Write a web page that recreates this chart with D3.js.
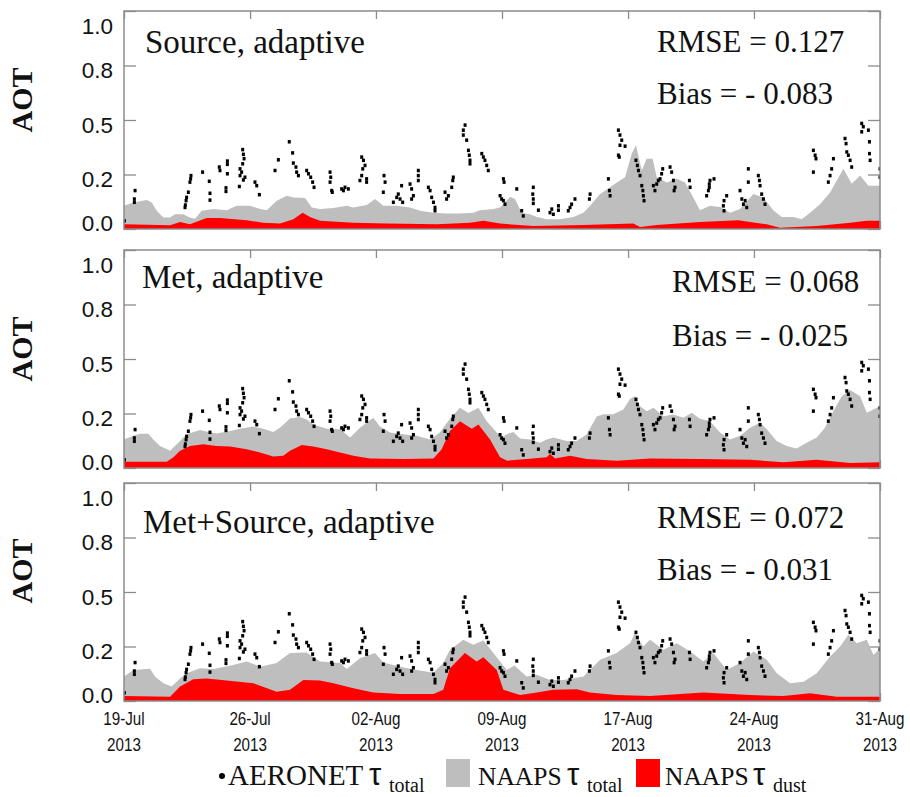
<!DOCTYPE html>
<html>
<head>
<meta charset="utf-8">
<script src="https://cdn.jsdelivr.net/npm/d3@7"></script>
<style>
  body { margin: 0; background: #fff; }
  svg { display: block; }
</style>
</head>
<body>
<svg id="chart" width="910" height="797"></svg>
<script>
/* AOT time series at one AERONET site, 19 Jul - 31 Aug 2013.
   x values are days since 19-Jul-2013 00:00, y values are AOT. */

const panelTitles = ["Source, adaptive", "Met, adaptive", "Met+Source, adaptive"];
const rmseValues = ["0.127", "0.068", "0.072"];
const biasValues = ["- 0.083", "- 0.025", "- 0.031"];

const yTicks = [0.0, 0.2, 0.5, 0.8, 1.0];
const dateTickDays = [0, 7.17, 14.33, 21.5, 28.67, 35.83, 43];
const dateTickLabels = ["19-Jul", "26-Jul", "02-Aug", "09-Aug", "17-Aug", "24-Aug", "31-Aug"];
const dateTickYear = "2013";

const legendLabels = ["AERONET", "NAAPS", "NAAPS"];
const legendSubs = ["total", "total", "dust"];

// NAAPS total AOT (grey) and dust AOT (red), one pair per panel
const totalSource = [[0,0.085],[0.53,0.097],[1.29,0.106],[1.58,0.097],[1.86,0.067],[2.24,0.042],[2.62,0.042],[2.90,0.054],[3.37,0.054],[3.75,0.042],[4.04,0.038],[4.42,0.067],[5.08,0.073],[5.84,0.069],[6.41,0.085],[7.17,0.085],[7.74,0.073],[8.12,0.069],[8.69,0.104],[9.25,0.122],[9.63,0.116],[10.30,0.114],[10.68,0.079],[11.15,0.073],[11.91,0.077],[12.67,0.085],[13.04,0.079],[13.81,0.088],[14.28,0.110],[14.75,0.085],[15.51,0.085],[16.27,0.079],[16.84,0.067],[17.59,0.060],[18.36,0.057],[19.11,0.057],[19.87,0.060],[20.25,0.069],[21.01,0.073],[21.39,0.079],[21.96,0.118],[22.24,0.110],[22.62,0.060],[23.09,0.054],[23.48,0.044],[24.04,0.036],[24.80,0.036],[25.56,0.044],[26.13,0.060],[26.51,0.085],[27.08,0.128],[27.65,0.153],[28.03,0.171],[28.50,0.190],[28.88,0.315],[29.12,0.361],[29.45,0.222],[29.73,0.287],[30.07,0.287],[30.30,0.190],[30.87,0.171],[31.44,0.184],[31.91,0.171],[32.38,0.116],[32.76,0.069],[33.33,0.085],[33.90,0.081],[34.47,0.060],[35.04,0.073],[35.80,0.128],[36.36,0.116],[36.93,0.069],[37.41,0.044],[38.07,0.044],[38.55,0.036],[39.02,0.060],[39.59,0.091],[40.16,0.134],[40.54,0.178],[40.92,0.232],[41.39,0.166],[41.87,0.196],[42.34,0.159],[43,0.159]];
const dustSource = [[0,0.017],[2.62,0.014],[3.19,0.026],[3.75,0.017],[4.70,0.040],[5.46,0.040],[6.98,0.032],[7.92,0.023],[8.87,0.020],[9.63,0.036],[10.16,0.060],[10.58,0.044],[11.15,0.030],[13.04,0.023],[14.94,0.020],[17.79,0.017],[19.68,0.023],[20.44,0.030],[21.39,0.020],[23.28,0.011],[26.13,0.015],[28.97,0.020],[29.35,0.007],[30.30,0.015],[32.76,0.026],[34.94,0.032],[36.56,0.017],[37.31,0.005],[39.40,0.011],[41.30,0.023],[42.25,0.030],[43,0.030]];

const totalMet = [[0,0.105],[0.53,0.118],[0.91,0.126],[1.38,0.126],[1.67,0.105],[2.05,0.081],[2.62,0.063],[3.09,0.093],[3.56,0.124],[4.32,0.139],[4.80,0.132],[5.27,0.127],[6.03,0.136],[6.60,0.144],[7.36,0.152],[7.93,0.144],[8.49,0.132],[8.87,0.148],[9.44,0.182],[10.01,0.187],[10.39,0.178],[10.77,0.160],[11.53,0.144],[12.29,0.142],[12.86,0.112],[13.42,0.148],[14.18,0.184],[14.56,0.152],[15.13,0.130],[15.89,0.124],[16.65,0.118],[17.41,0.105],[17.97,0.130],[18.54,0.181],[19.11,0.231],[19.59,0.203],[20.16,0.231],[20.63,0.172],[21.20,0.130],[21.50,0.110],[21.77,0.124],[22.15,0.132],[22.53,0.108],[23.09,0.105],[23.66,0.093],[24.04,0.105],[24.42,0.112],[25.18,0.099],[25.75,0.099],[26.32,0.124],[26.89,0.189],[27.27,0.197],[27.83,0.197],[28.40,0.222],[28.78,0.280],[29.06,0.295],[29.35,0.240],[29.73,0.213],[30.11,0.231],[30.68,0.190],[31.25,0.196],[31.82,0.184],[32.29,0.204],[32.76,0.181],[33.33,0.172],[33.90,0.130],[34.47,0.105],[35.04,0.118],[35.61,0.148],[36.18,0.166],[36.56,0.142],[37.12,0.099],[37.69,0.081],[38.26,0.072],[38.83,0.093],[39.40,0.112],[39.87,0.148],[40.35,0.213],[40.82,0.295],[41.30,0.330],[41.87,0.295],[42.25,0.204],[42.60,0.220],[43,0.240]];
const dustMet = [[0,0.023],[2.43,0.023],[2.81,0.039],[3.19,0.063],[3.75,0.081],[4.51,0.087],[5.27,0.081],[6.03,0.079],[6.98,0.069],[7.74,0.057],[8.49,0.042],[9.06,0.045],[9.44,0.063],[10.11,0.084],[10.77,0.079],[11.53,0.069],[12.29,0.057],[13.05,0.045],[13.99,0.035],[15.89,0.033],[17.60,0.035],[18.07,0.069],[18.54,0.136],[19.11,0.172],[19.78,0.144],[20.16,0.160],[20.82,0.105],[21.39,0.039],[21.80,0.027],[22.90,0.033],[24.04,0.039],[24.23,0.051],[24.52,0.035],[25.37,0.045],[26.32,0.033],[28.02,0.027],[29.92,0.035],[32.76,0.033],[35.61,0.030],[37.50,0.021],[39.40,0.030],[41.30,0.018],[43,0.021]];

const totalMetSource = [[0,0.090],[0.53,0.114],[1.48,0.118],[1.76,0.090],[2.24,0.065],[2.71,0.053],[3.19,0.083],[3.56,0.102],[4.32,0.120],[5.08,0.117],[6.03,0.129],[6.98,0.145],[7.74,0.126],[8.68,0.139],[9.44,0.176],[10.39,0.178],[11.15,0.145],[12.29,0.139],[12.67,0.117],[13.42,0.157],[14.28,0.176],[14.75,0.141],[15.70,0.126],[16.65,0.114],[17.60,0.104],[18.16,0.139],[18.54,0.188],[19.30,0.237],[19.87,0.209],[20.44,0.233],[21.01,0.176],[21.77,0.114],[22.20,0.130],[22.90,0.090],[23.47,0.096],[24.23,0.077],[25.00,0.077],[26.13,0.090],[27.08,0.151],[28.02,0.176],[28.78,0.218],[29.07,0.274],[29.53,0.200],[29.92,0.237],[30.68,0.188],[31.44,0.218],[32.20,0.182],[32.95,0.145],[33.52,0.176],[34.28,0.114],[35.04,0.139],[35.80,0.182],[36.56,0.151],[37.13,0.102],[37.89,0.065],[38.65,0.071],[39.40,0.102],[40.16,0.163],[40.73,0.200],[41.20,0.264],[41.68,0.218],[42.25,0.237],[42.63,0.169],[43,0.194]];
const dustMetSource = [[0,0.018],[2.62,0.016],[3.19,0.053],[3.94,0.080],[4.70,0.083],[5.84,0.075],[7.36,0.065],[8.68,0.034],[9.44,0.041],[10.20,0.077],[11.15,0.075],[11.91,0.065],[13.05,0.047],[14.18,0.031],[15.70,0.026],[17.60,0.026],[18.16,0.041],[18.54,0.120],[19.39,0.176],[20.06,0.145],[20.44,0.161],[21.20,0.114],[21.58,0.041],[22.53,0.022],[23.47,0.031],[24.42,0.041],[25.75,0.043],[26.50,0.031],[28.02,0.022],[29.92,0.018],[32.95,0.031],[35.61,0.022],[37.50,0.018],[39.02,0.028],[40.54,0.016],[43,0.016]];

// AERONET observed total AOT (black points), same in all panels
const aeronet = [[0.02,0.030],[0.63,0.141],[0.59,0.110],[0.59,0.098],
  [3.81,0.196],[3.79,0.184],[3.75,0.172],[3.66,0.135],[3.56,0.116],[3.53,0.104],[3.49,0.088],[3.47,0.079],
  [4.47,0.213],[4.85,0.175],[4.89,0.131],[4.89,0.106],
  [5.42,0.241],[5.46,0.222],[5.88,0.274],[5.88,0.256],[5.88,0.204],[5.80,0.151],[5.80,0.138],
  [6.75,0.337],[6.79,0.311],[6.83,0.287],[6.75,0.259],[6.60,0.231],[6.69,0.213],[6.60,0.196],[6.88,0.190],[6.79,0.180],[6.56,0.156],
  [7.45,0.172],[7.55,0.159],[7.70,0.126],
  [8.59,0.222],[8.78,0.281],
  [9.40,0.380],[9.59,0.319],[9.63,0.263],[9.78,0.241],[9.82,0.213],[9.92,0.196],
  [10.39,0.222],[10.49,0.204],[10.62,0.190],[10.73,0.172],[10.81,0.153],
  [11.72,0.213],[11.76,0.190],[11.72,0.172],[11.81,0.141],[11.85,0.135],
  [12.38,0.147],[12.57,0.153],[12.76,0.147],[12.48,0.141],
  [13.52,0.296],[13.62,0.278],[13.71,0.250],[13.58,0.231],[13.52,0.196],[13.80,0.184],[13.80,0.172],[13.42,0.178],
  [14.79,0.196],[14.85,0.172],[14.75,0.135],
  [15.32,0.098],[15.51,0.116],[15.60,0.128],[15.70,0.110],[15.79,0.159],[15.85,0.098],
  [16.27,0.165],[16.36,0.147],[16.46,0.122],[16.36,0.110],[16.74,0.222],[16.74,0.196],[16.74,0.178],
  [17.31,0.153],[17.41,0.141],[17.50,0.116],[17.60,0.098],[17.69,0.079],[17.69,0.067],
  [18.26,0.135],[18.35,0.110],[18.45,0.122],[18.64,0.153],[18.70,0.178],[18.73,0.190],
  [19.40,0.472],[19.30,0.444],[19.30,0.417],[19.49,0.389],
  [19.59,0.333],[19.64,0.306],[19.68,0.278],[19.68,0.259],
  [20.35,0.315],[20.44,0.296],[20.53,0.278],[20.63,0.250],[20.72,0.222],
  [21.39,0.122],[21.48,0.110],[21.58,0.104],[21.58,0.184],[21.62,0.172],[21.67,0.091],
  [22.34,0.147],[22.62,0.067],[22.71,0.048],
  [23.28,0.153],[23.25,0.128],[23.28,0.110],[23.28,0.094],[23.57,0.069],
  [24.23,0.060],[24.33,0.073],[24.42,0.054],[24.71,0.085],[24.71,0.069],
  [25.27,0.067],[25.37,0.079],[25.46,0.091],[25.65,0.110],
  [26.51,0.128],[26.47,0.110],
  [27.55,0.184],[27.61,0.141],[27.65,0.122],
  [28.12,0.444],[28.21,0.417],[28.31,0.389],[28.21,0.361],[28.50,0.356],[28.17,0.296],[28.12,0.306],
  [29.12,0.278],[29.20,0.250],[29.26,0.222],[29.35,0.196],[29.45,0.159],[29.51,0.141],[29.54,0.122],[29.58,0.104],
  [30.11,0.159],[30.20,0.141],[30.30,0.165],[30.39,0.178],[30.49,0.184],[30.58,0.204],[30.64,0.231],
  [31.06,0.241],[31.15,0.213],[31.25,0.178],[31.34,0.153],[31.29,0.141],
  [32.16,0.178],[32.20,0.153],
  [33.14,0.122],[33.24,0.141],[33.29,0.165],[33.33,0.178],[33.56,0.184],[33.29,0.153],
  [34.13,0.104],[34.09,0.085],[34.13,0.067],[34.28,0.122],
  [35.04,0.141],[35.14,0.110],[35.23,0.091],[35.42,0.079],[35.51,0.231],[35.51,0.172],[35.33,0.104],
  [36.08,0.196],[36.14,0.178],[36.18,0.159],[36.27,0.128],[36.37,0.110],[36.46,0.091],
  [39.21,0.333],[39.31,0.306],[39.36,0.287],[39.21,0.213],
  [40.06,0.172],[40.16,0.196],[40.25,0.231],[40.35,0.287],
  [41.01,0.398],[41.07,0.370],[41.11,0.324],[41.20,0.306],[41.30,0.278],[41.39,0.241],
  [41.96,0.481],[42.05,0.463],[41.96,0.435],[42.34,0.444],
  [42.40,0.380],[42.40,0.315],[42.44,0.278],
  [43.0,0.231],[43.0,0.190]];

const totals = [totalSource, totalMet, totalMetSource];
const dusts = [dustSource, dustMet, dustMetSource];

/* layout */
const plotLeft = 124, plotRight = 880, panelH = 218;
const panelTops = [11, 250, 483];
const textPos = [
  { tx: 145, ty: 42, sx: 657, ry: 41, by: 93 },
  { tx: 142, ty: 38, sx: 672, ry: 42, by: 96 },
  { tx: 143, ty: 50, sx: 657, ry: 45, by: 97 }
];
const serif = "'Liberation Serif', 'Times New Roman', serif";
const sans = "'Liberation Sans', Arial, Helvetica, sans-serif";
const frameColor = "#8c8c8c";
const greyFill = "#bebebe";
const redFill = "#ff0000";

const svg = d3.select("#chart");

const x = d3.scaleLinear().domain([0, 43]).range([plotLeft, plotRight]);

// y axis is labelled with unevenly spaced values at evenly spaced positions
const y = d3
  .scaleLinear()
  .domain(yTicks)
  .range([panelH, panelH * 0.75, panelH * 0.5, panelH * 0.25, 0])
  .clamp(true);

svg.append("defs")
  .append("clipPath")
  .attr("id", "plotclip")
  .append("rect")
  .attr("x", plotLeft)
  .attr("y", 0)
  .attr("width", plotRight - plotLeft)
  .attr("height", panelH);

const area = d3
  .area()
  .x((d) => x(d[0]))
  .y0(panelH)
  .y1((d) => y(d[1]));

panelTitles.forEach(function (title, i) {
  const g = svg.append("g").attr("transform", `translate(0,${panelTops[i]})`);

  // inward ticks on all four sides
  const left = g.append("g")
    .attr("transform", `translate(${plotLeft},0)`)
    .call(d3.axisLeft(y).tickValues(yTicks).tickSizeInner(-12).tickSizeOuter(0)
      .tickPadding(11).tickFormat(d3.format(".1f")));
  left.selectAll("text")
    .attr("dy", null)
    .attr("y", (d) => (d === 1 ? 22 : d === 0 ? 1 : 12))
    .style("font-family", sans)
    .style("font-size", "22.5px")
    .attr("fill", "#111");

  g.append("g")
    .attr("transform", `translate(${plotRight},0)`)
    .call(d3.axisRight(y).tickValues(yTicks).tickSizeInner(-12).tickSizeOuter(0).tickFormat(""));
  g.append("g")
    .call(d3.axisTop(x).tickValues(dateTickDays).tickSizeInner(-8).tickSizeOuter(0).tickFormat(""));
  g.append("g")
    .attr("transform", `translate(0,${panelH})`)
    .call(d3.axisBottom(x).tickValues(dateTickDays).tickSizeInner(-8).tickSizeOuter(0).tickFormat(""));

  g.selectAll(".domain").remove();
  g.selectAll(".tick line").attr("stroke", frameColor).attr("stroke-width", 1.3);

  const plot = g.append("g").attr("clip-path", "url(#plotclip)");

  plot.append("path")
    .datum(totals[i])
    .attr("d", area)
    .attr("fill", greyFill);

  plot.append("path")
    .datum(dusts[i])
    .attr("d", area)
    .attr("fill", redFill);

  plot.selectAll("rect.obs")
    .data(aeronet)
    .join("rect")
    .attr("class", "obs")
    .attr("x", (d) => x(d[0]) - 1.5)
    .attr("y", (d) => y(d[1]) - 1.75)
    .attr("width", 3)
    .attr("height", 3.5)
    .attr("fill", "#000");

  g.append("rect")
    .attr("x", plotLeft)
    .attr("y", 0)
    .attr("width", plotRight - plotLeft)
    .attr("height", panelH)
    .attr("fill", "none")
    .attr("stroke", frameColor)
    .attr("stroke-width", 1.5);

  // labels inside the panel
  const tp = textPos[i];
  g.append("text")
    .attr("x", tp.tx)
    .attr("y", tp.ty)
    .style("font-family", serif)
    .style("font-size", "33px")
    .attr("fill", "#111")
    .text(title);

  g.append("text")
    .attr("x", tp.sx)
    .attr("y", tp.ry)
    .style("font-family", serif)
    .style("font-size", "31px")
    .attr("fill", "#111")
    .text("RMSE = " + rmseValues[i]);

  g.append("text")
    .attr("x", tp.sx)
    .attr("y", tp.by)
    .style("font-family", serif)
    .style("font-size", "31px")
    .attr("fill", "#111")
    .text("Bias = " + biasValues[i]);

  g.append("text")
    .attr("transform", `translate(32,${[89, 99, 88][i]}) rotate(-90)`)
    .attr("text-anchor", "middle")
    .style("font-family", serif)
    .style("font-size", "30px")
    .style("font-weight", "bold")
    .attr("fill", "#111")
    .text("AOT");
});

// date labels below the last panel, drawn condensed
const bottom = panelTops[2] + panelH;
const dateLabels = svg.append("g")
  .selectAll("g")
  .data(dateTickDays)
  .join("g")
  .attr("transform", (d) => `translate(${x(d)},0) scale(0.8,1)`);
dateLabels.append("text")
  .attr("text-anchor", "middle")
  .attr("y", bottom + 24)
  .style("font-family", sans)
  .style("font-size", "19px")
  .attr("fill", "#111")
  .text((d, i) => dateTickLabels[i]);
dateLabels.append("text")
  .attr("text-anchor", "middle")
  .attr("y", bottom + 50)
  .style("font-family", sans)
  .style("font-size", "19px")
  .attr("fill", "#111")
  .text(dateTickYear);

// legend
const legY = 785;
const legend = svg.append("g");
const legTextX = [228, 478, 665];
const legTauX = [369, 567, 753];
const legSubX = [389, 587, 773];
legend.append("circle").attr("cx", 222).attr("cy", legY - 9).attr("r", 3).attr("fill", "#000");
legend.append("rect").attr("x", 446).attr("y", legY - 26).attr("width", 24).attr("height", 28).attr("fill", greyFill);
legend.append("rect").attr("x", 636).attr("y", legY - 26).attr("width", 24).attr("height", 28).attr("fill", redFill);

legendLabels.forEach(function (lab, i) {
  legend.append("text")
    .attr("x", legTextX[i])
    .attr("y", legY)
    .style("font-family", serif)
    .style("font-size", i === 0 ? "29px" : "25.5px")
    .attr("fill", "#111")
    .text(lab);
  legend.append("text")
    .attr("x", legTauX[i])
    .attr("y", legY)
    .style("font-family", sans)
    .style("font-size", "31px")
    .attr("fill", "#111")
    .text("τ");
  legend.append("text")
    .attr("x", legSubX[i])
    .attr("y", legY + 7)
    .style("font-family", serif)
    .style("font-size", "20px")
    .attr("fill", "#111")
    .text(legendSubs[i]);
});
</script>
</body>
</html>
